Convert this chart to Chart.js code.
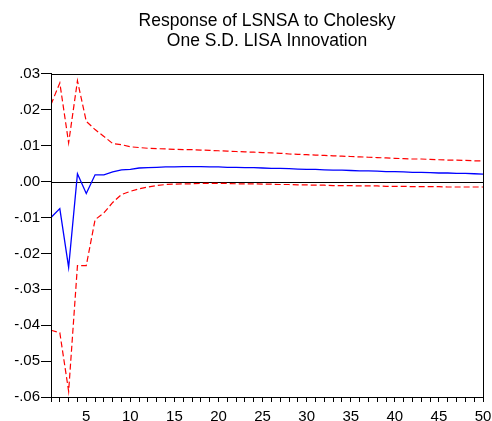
<!DOCTYPE html>
<html>
<head>
<meta charset="utf-8">
<script src="https://cdn.jsdelivr.net/npm/chart.js@4"></script>
<style>
html,body{margin:0;padding:0;background:#fff;}
#wrap{width:492px;height:421px;}
</style>
</head>
<body>
<div id="wrap"><canvas id="c" width="492" height="421"></canvas></div>
<script>
const periods = Array.from({length: 50}, (_, i) => i + 1);
const response = [-0.0100,-0.0075,-0.0239,0.0022,-0.0033,0.0019,0.0019,0.0027,0.0033,0.0034,
  0.0038,0.0039,0.0040,0.0041,0.0041,0.0042,0.0042,0.0042,0.0041,0.0041,
  0.0040,0.0040,0.0039,0.0039,0.0038,0.0037,0.0037,0.0036,0.0035,0.0034,
  0.0034,0.0033,0.0032,0.0032,0.0031,0.0030,0.0030,0.0029,0.0028,0.0028,
  0.0027,0.0026,0.0026,0.0025,0.0024,0.0024,0.0023,0.0023,0.0022,0.0021];
const upperBand = [0.0215,0.0275,0.0108,0.0281,0.0168,0.0145,0.0126,0.0106,0.0103,0.0097,
  0.0095,0.0093,0.0092,0.0091,0.0090,0.0089,0.0089,0.0088,0.0087,0.0086,
  0.0085,0.0084,0.0083,0.0082,0.0081,0.0080,0.0079,0.0077,0.0076,0.0075,
  0.0074,0.0073,0.0072,0.0071,0.0070,0.0069,0.0068,0.0067,0.0066,0.0065,
  0.0064,0.0063,0.0063,0.0062,0.0061,0.0060,0.0060,0.0059,0.0058,0.0058];
const lowerBand = [-0.0414,-0.0421,-0.0584,-0.0234,-0.0234,-0.0106,-0.0087,-0.0058,-0.0036,-0.0027,
  -0.0020,-0.0015,-0.0011,-0.0008,-0.0007,-0.0006,-0.0006,-0.0005,-0.0005,-0.0005,
  -0.0005,-0.0006,-0.0006,-0.0006,-0.0007,-0.0007,-0.0008,-0.0008,-0.0009,-0.0009,
  -0.0010,-0.0010,-0.0011,-0.0011,-0.0011,-0.0012,-0.0012,-0.0012,-0.0013,-0.0013,
  -0.0013,-0.0014,-0.0014,-0.0014,-0.0014,-0.0015,-0.0015,-0.0015,-0.0015,-0.0015];
const titleLines = ["Response of LSNSA to Cholesky", "One S.D. LISA Innovation"];
const yMin = -0.06, yMax = 0.03, yStep = 0.01;
const xMin = 1, xMax = 50, xLabelEvery = 5;

function fmtY(v){
  const r = Math.round(v*100)/100;
  let s = Math.abs(r).toFixed(2).replace(/^0/, '');
  return (r < 0 ? '-' : '') + s;
}

const frame = {
  id: 'frame',
  beforeDatasetsDraw(chart){
    const {ctx, chartArea:a, scales:{y}} = chart;
    ctx.save();
    ctx.strokeStyle = '#000';
    ctx.lineWidth = 1;
    const yz = Math.round(y.getPixelForValue(0)) + 0.5;
    ctx.beginPath();
    ctx.moveTo(a.left, yz); ctx.lineTo(a.right, yz);
    ctx.stroke();
    ctx.restore();
  },
  afterDraw(chart){
    const {ctx, chartArea:a} = chart;
    ctx.save();
    ctx.strokeStyle = '#000';
    ctx.lineWidth = 1;
    ctx.strokeRect(Math.round(a.left)+0.5, Math.round(a.top)+0.5, Math.round(a.right-a.left), Math.round(a.bottom-a.top));
    ctx.restore();
  }
};

const pts = arr => arr.map((v,i) => ({x: periods[i], y: v}));

new Chart(document.getElementById('c'), {
  type: 'line',
  data: {
    datasets: [
      {data: pts(upperBand), borderColor: '#ff0000', borderWidth: 1.2, borderDash: [6,3], pointRadius: 0, tension: 0},
      {data: pts(lowerBand), borderColor: '#ff0000', borderWidth: 1.2, borderDash: [6,3], pointRadius: 0, tension: 0},
      {data: pts(response), borderColor: '#0000ff', borderWidth: 1.3, pointRadius: 0, tension: 0}
    ]
  },
  options: {
    responsive: false,
    animation: false,
    devicePixelRatio: 1,
    layout: {padding: {left: 0, right: 1, top: 0, bottom: 0}},
    plugins: {
      legend: {display: false},
      tooltip: {enabled: false},
      title: {
        display: true,
        fullSize: false,
        text: titleLines,
        color: '#000',
        font: {family: 'Liberation Sans', size: 17.5, weight: 'normal', lineHeight: 1.15},
        padding: {top: 11, bottom: 22.7}
      }
    },
    scales: {
      x: {
        type: 'linear', min: xMin, max: xMax,
        border: {display: true, color: '#000'},
        grid: {drawOnChartArea: false, tickLength: 5, color: '#000'},
        ticks: {
          stepSize: 1, autoSkip: false, maxRotation: 0, padding: 6,
          color: '#000', font: {family: 'Liberation Sans', size: 15},
          callback: v => (v % xLabelEvery === 0 ? String(v) : '')
        },
        afterFit(s){ s.height = 24; s.paddingRight = 9; s.paddingLeft = 0; }
      },
      y: {
        min: yMin, max: yMax,
        border: {display: true, color: '#000'},
        grid: {drawOnChartArea: false, tickLength: 10, color: '#000'},
        ticks: {
          stepSize: yStep, padding: 1,
          color: '#000', font: {family: 'Liberation Sans', size: 15},
          callback: v => fmtY(v)
        },
        afterFit(s){ s.width = 51; }
      }
    }
  },
  plugins: [frame]
});
</script>
</body>
</html>
